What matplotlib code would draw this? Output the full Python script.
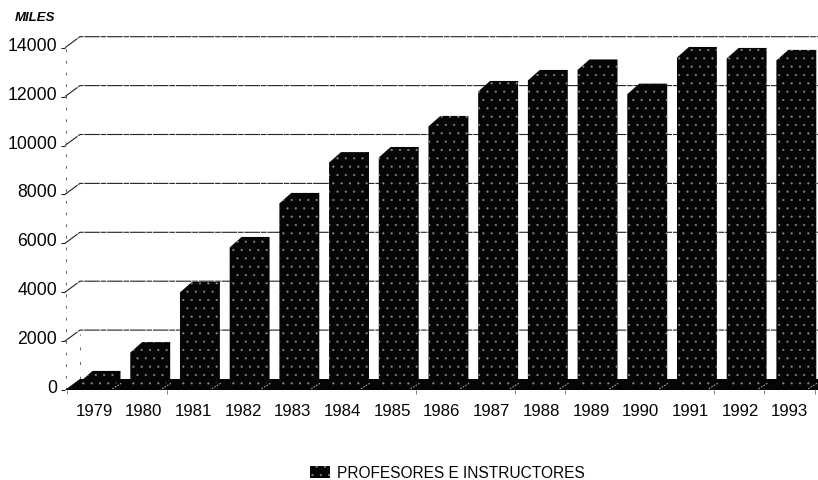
import matplotlib
matplotlib.use("Agg")
import matplotlib.pyplot as plt
from matplotlib.patches import Patch
from matplotlib.transforms import ScaledTranslation

years = [1979, 1980, 1981, 1982, 1983, 1984, 1985, 1986, 1987, 1988, 1989, 1990, 1991, 1992, 1993]
profesores = [350, 1530, 3990, 5830, 7630, 9300, 9510, 10780, 12210, 12660, 13090, 12100, 13600, 13560, 13480]
y_ticks = [0, 2000, 4000, 6000, 8000, 10000, 12000, 14000]
# only these little marks under the floor survive in the scan
floor_marks = [1978.46, 1980.47, 1985.48, 1987.47, 1988.48, 1991.47, 1992.48, 1993.5]

plt.rcParams["font.family"] = ["Liberation Sans", "DejaVu Sans"]
plt.rcParams["hatch.linewidth"] = 0.3

W, H = 818, 481
INK = "#050505"
SPECK = "#8c8c8c"

# fake 3d offsets, in data units (49.7 px per year, 40.9 units per px)
DX = 0.24
DY = 430
WALL_X = 0.30
WALL_Y = 450
BAR_LEFT = -0.27
BAR_W = 0.563


def main():
    fig = plt.figure(figsize=(W / 100, H / 100), dpi=100)
    ax = fig.add_axes([65 / W, 1 - 391 / H, (W - 65) / W, (391 - 28) / H])
    x0 = 1979 + (65 - 94) / 49.7
    x1 = 1979 + (W - 94) / 49.7
    ax.set_xlim(x0, x1)
    ax.set_ylim(0, (391 - 28) * 40.9)

    for s in ax.spines.values():
        s.set_visible(False)

    # back wall lines with the slanted bit on the left wall
    for v in y_ticks[1:]:
        ax.plot([x0, x0 + WALL_X, x1], [v, v + WALL_Y, v + WALL_Y], color="#222222", lw=0.8,
                ls=(0, (14, 0.8, 5, 0.8)), clip_on=False, zorder=1)
    ax.plot([x0 + 0.02, x0 + 0.02], [0, 14000], color="#666666", lw=0.7, ls=(0, (3, 9)), zorder=1)
    ax.plot([x0 + WALL_X, x0 + WALL_X], [450, 2300], color="#666666", lw=0.7, ls=(0, (3, 12)), zorder=1)

    # floor
    ax.fill([x0, x0 + WALL_X, x1, x1], [0, WALL_Y, WALL_Y, 0], color=INK, lw=0, zorder=2)

    # bars, silhouette of front face + top + side, all black
    for year, v in zip(years, profesores):
        left = year + BAR_LEFT
        right = left + BAR_W
        ax.fill(
            [left, left, left + DX, right + DX, right + DX, right],
            [0, v, v + DY, v + DY, DY, 0],
            facecolor=INK,
            edgecolor=SPECK,
            hatch="..",
            lw=0,
            zorder=3,
        )
        # broken white diagonal on the floor between bars
        ax.plot([year + 0.37, year + 0.57], [50, 300], color="#cccccc", lw=0.6,
                ls=(0, (2, 1.5)), zorder=4)

    ax.set_xticks(years)
    ax.set_xticklabels([str(y) for y in years], fontsize=12.2, color=INK)
    ax.set_xticks(floor_marks, minor=True)
    ax.tick_params(axis="x", which="major", length=0, pad=9.7)
    ax.tick_params(axis="x", which="minor", length=3.2, width=0.6, color="#666666", pad=0)

    ax.set_yticks(y_ticks)
    ax.set_yticklabels([str(v) for v in y_ticks], fontsize=12.7, color=INK)
    ax.tick_params(axis="y", length=3, width=0.8, color="#222222", pad=2.5)
    shift = ScaledTranslation(0, 4.5 / 100, fig.dpi_scale_trans)
    for lab in ax.get_yticklabels():
        lab.set_transform(lab.get_transform() + shift)

    fig.text(15 / W, 1 - 18 / H, "MILES", fontsize=9.5, fontweight="bold", fontstyle="italic",
             color=INK, ha="left", va="center")

    fig.legend(
        handles=[Patch(facecolor=INK, edgecolor=SPECK, hatch="..", lw=0)],
        labels=["PROFESORES E INSTRUCTORES"],
        loc="center left",
        bbox_to_anchor=(299 / W, 1 - 473.5 / H),
        frameon=False,
        fontsize=11.2,
        labelcolor=INK,
        handlelength=1.29,
        handleheight=0.8,
        handletextpad=0.45,
        borderpad=0.2,
    )

    fig.savefig("out.png", dpi=100)


if __name__ == "__main__":
    main()
